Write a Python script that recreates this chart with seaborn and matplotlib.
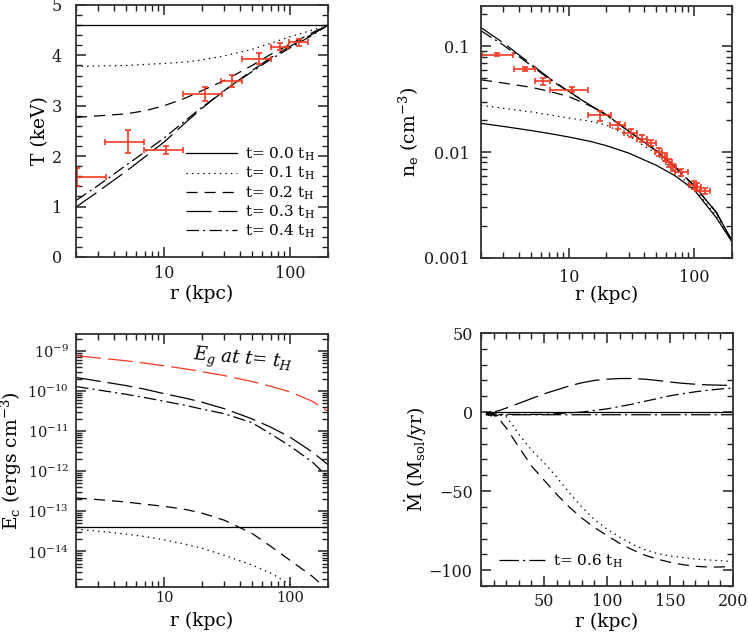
import numpy as np
import matplotlib
matplotlib.use("Agg")
import matplotlib.pyplot as plt
import seaborn as sns
from matplotlib.ticker import (MultipleLocator, LogLocator, NullFormatter,
                               FixedLocator, FuncFormatter, LogFormatterMathtext)

plt.rcParams['font.family'] = ['DejaVu Serif', 'DejaVu Sans']
plt.rcParams['mathtext.fontset'] = 'dejavuserif'
plt.rcParams['lines.scale_dashes'] = False
plt.rcParams['axes.facecolor'] = 'white'
plt.rcParams['figure.facecolor'] = 'white'
for ax_ in ('xtick', 'ytick'):
    plt.rcParams[f'{ax_}.direction'] = 'in'
    plt.rcParams[f'{ax_}.major.size'] = 7
    plt.rcParams[f'{ax_}.minor.size'] = 4
    plt.rcParams[f'{ax_}.major.width'] = 1.1
    plt.rcParams[f'{ax_}.minor.width'] = 1.0
    plt.rcParams[f'{ax_}.color'] = '#202020'
plt.rcParams['xtick.top'] = True
plt.rcParams['ytick.right'] = True

# ---------------- data: temperature panel ----------------
r_T = [2, 3, 5, 7, 10, 15, 20, 30, 50, 70, 100, 150, 200]
T_t0 = [4.6] * 13
T_t1 = [3.78, 3.79, 3.80, 3.82, 3.84, 3.87, 3.91, 3.99, 4.12, 4.24, 4.37, 4.5, 4.6]
T_t2 = [2.77, 2.80, 2.84, 2.90, 3.00, 3.16, 3.30, 3.50, 3.80, 4.02, 4.22, 4.45, 4.6]
T_t3 = [0.99, 1.30, 1.70, 1.98, 2.28, 2.68, 2.95, 3.30, 3.70, 3.95, 4.18, 4.42, 4.6]
T_t4 = [1.12, 1.42, 1.82, 2.08, 2.36, 2.72, 2.97, 3.30, 3.68, 3.92, 4.15, 4.40, 4.6]

T_obs_r = [2.02, 5.2, 10.4, 21.2, 34.6, 56.3, 83.3, 117]
T_obs_rlo = [1.0, 3.40, 6.95, 14.1, 28.4, 41.7, 70.0, 97.6]
T_obs_rhi = [3.44, 6.95, 14.1, 29.0, 41.4, 70.0, 96.0, 139]
T_obs = [1.58, 2.29, 2.13, 3.23, 3.50, 3.93, 4.17, 4.26]
T_obs_err = [0.18, 0.22, 0.08, 0.14, 0.12, 0.11, 0.07, 0.07]

# ---------------- data: density panel ----------------
r_n = [2, 3, 5, 7, 10, 15, 20, 30, 50, 70, 100, 150, 200]
n_t0 = [0.0187, 0.0175, 0.0160, 0.0150, 0.0139, 0.0126, 0.0115, 0.0098, 0.0075, 0.0060, 0.0044, 0.0024, 0.00142]
n_t1 = [0.0277, 0.0260, 0.0240, 0.0225, 0.0210, 0.0195, 0.0180, 0.0143, 0.0096, 0.0066, 0.0045, 0.0025, 0.00142]
n_t2 = [0.0482, 0.0450, 0.0410, 0.0375, 0.0335, 0.0272, 0.0225, 0.0158, 0.0102, 0.0072, 0.0048, 0.0027, 0.00145]
n_t3 = [0.150, 0.108, 0.068, 0.050, 0.0375, 0.0275, 0.0225, 0.0158, 0.0103, 0.0073, 0.0048, 0.0027, 0.00145]
n_t4 = [0.140, 0.103, 0.066, 0.049, 0.0372, 0.0274, 0.0224, 0.0158, 0.0103, 0.0073, 0.0048, 0.0027, 0.00145]

n_obs_r = [2.69, 4.45, 6.28, 10.7, 17.6, 24.5, 31.2, 38.7, 45.5, 52.3, 58.0, 63.0, 68.0, 79.0, 98.8, 106, 122]
n_obs_rlo = [2.05, 3.64, 5.4, 7.1, 14.2, 21.5, 27.8, 35.2, 41.8, 49.0, 55.0, 60.0, 65.0, 70.0, 91.0, 100, 112]
n_obs_rhi = [3.59, 5.4, 7.1, 14.2, 21.7, 28.0, 35.0, 42.0, 50.0, 55.5, 61.0, 66.0, 72.0, 90.0, 106, 113, 133]
n_obs = [0.0835, 0.0612, 0.0466, 0.0388, 0.0222, 0.0179, 0.0152, 0.0134, 0.0122, 0.0100, 0.0090, 0.0080, 0.0072, 0.0065, 0.0049, 0.0047, 0.0043]
n_obs_err = [0.002, 0.003, 0.004, 0.002, 0.0025, 0.0015, 0.0012, 0.001, 0.0009, 0.0009, 0.0008, 0.0007, 0.0006, 0.0005, 0.0004, 0.0004, 0.0003]

# ---------------- data: energy panel ----------------
r_E = [2, 3, 5, 7, 10, 15, 20, 30, 50, 70, 100, 150, 200]
E_g = [7.5e-10, 6.6e-10, 5.6e-10, 4.9e-10, 4.2e-10, 3.5e-10, 3.0e-10, 2.4e-10, 1.7e-10, 1.3e-10, 9.4e-11, 5.5e-11, 3.1e-11]
E_t0 = [4.0e-14] * 13
E_t1 = [3.6e-14, 3.2e-14, 2.7e-14, 2.35e-14, 1.95e-14, 1.5e-14, 1.2e-14, 8.0e-15, 4.6e-15, 2.9e-15, 1.5e-15, 6e-16, 3e-16]
E_t2 = [2.15e-13, 1.95e-13, 1.7e-13, 1.5e-13, 1.33e-13, 1.1e-13, 9.0e-14, 6.0e-14, 2.8e-14, 1.35e-14, 6.0e-15, 2.4e-15, 1.1e-15]
E_t3 = [2.15e-10, 1.75e-10, 1.35e-10, 1.1e-10, 8.5e-11, 6.5e-11, 5.2e-11, 3.6e-11, 2.0e-11, 1.25e-11, 7.0e-12, 3.0e-12, 1.45e-12]
E_t4 = [1.28e-10, 1.05e-10, 8.2e-11, 6.8e-11, 5.5e-11, 4.3e-11, 3.5e-11, 2.7e-11, 1.6e-11, 8.5e-12, 4.2e-12, 1.7e-12, 7.0e-13]

# ---------------- data: mass flow panel ----------------
r_M = [4, 6, 8, 10, 12, 15, 18, 20, 25, 30, 40, 50, 60, 70, 80, 90, 100, 110, 120, 130, 140, 150, 160, 170, 180, 190, 200]
M_t0 = [0.0] * 27
M_t1 = [-1, -2, -1, -2, -1, -2, -2, -3, -8, -14, -24, -32, -41, -51, -60, -68, -74, -79, -83.5, -87, -89.5, -91, -92, -93, -93.5, -94, -94.5]
M_t2 = [-1, -2, -1, -2, -3, -5, -8, -10, -16, -22, -34, -43, -52, -60, -67, -73, -78, -83, -87, -90.5, -93, -95, -96.5, -97.5, -98, -98, -97.5]
M_t3 = [0, -1, 0, -1, 0.5, 1, 2, 2.5, 4, 5.5, 8.5, 11.5, 14, 16.5, 18.5, 20, 20.8, 21.2, 21.2, 20.8, 20, 19, 18.2, 17.6, 17.2, 17, 16.8]
M_t4 = [-1, -2, -1, -1, -2, -1.5, -1.5, -1.5, -1.5, -1.5, -1.5, -1.5, -1, -0.5, 0, 1.0, 2.0, 3.5, 5.0, 6.8, 8.5, 10.3, 11.6, 12.8, 13.8, 14.6, 15.2]
M_t6 = [-2, -1, -2.5, -1, -2.5, -1.5, -2.5, -2, -1.7, -1.7, -1.7, -1.7, -1.7, -1.7, -1.7, -1.7, -1.7, -1.7, -1.7, -1.7, -1.7, -1.7, -1.7, -1.7, -1.7, -1.7, -1.7]

labels_t = [r"t= 0.0 t$_{\rm H}$", r"t= 0.1 t$_{\rm H}$", r"t= 0.2 t$_{\rm H}$",
            r"t= 0.3 t$_{\rm H}$", r"t= 0.4 t$_{\rm H}$"]
label_t6 = r"t= 0.6 t$_{\rm H}$"

# ---------------- styles ----------------
LS = ['-', (0, (1, 3)), (0, (8, 5)), (0, (18, 5)), (0, (9, 3, 1.5, 3))]
LS6 = (0, (14, 3, 1.5, 3))
RED = '#f23a22'
FRAME = '#303030'
LW = 0.9
TICKFS = 11.5
LABFS = 13.5


def line(ax, x, y, ls, color='k', label=None, lw=LW):
    sns.lineplot(x=x, y=y, ax=ax, color=color, linewidth=lw, linestyle=ls,
                 estimator=None, errorbar=None, sort=False, label=label)


def style_ax(ax, xpad, ypad, fs=TICKFS):
    for s in ax.spines.values():
        s.set_color(FRAME)
        s.set_linewidth(1.3)
    ax.tick_params(which='both', direction='in', top=True, right=True,
                   bottom=True, left=True, labelsize=fs, labelcolor='#1a1a1a')
    ax.tick_params(axis='x', which='both', pad=xpad)
    ax.tick_params(axis='y', which='both', pad=ypad)


def log_x(ax):
    ax.set_xscale('log')
    ax.set_xlim(2, 200)
    ax.xaxis.set_major_locator(FixedLocator([10, 100]))
    ax.xaxis.set_major_formatter(FuncFormatter(lambda v, p: f"{v:g}"))
    ax.xaxis.set_minor_locator(LogLocator(base=10, subs=np.arange(2, 10), numticks=100))
    ax.xaxis.set_minor_formatter(NullFormatter())


def labels(ax, xl, yl, xy, yx):
    ax.set_xlabel(xl, fontsize=LABFS)
    ax.set_ylabel(yl, fontsize=LABFS)
    ax.xaxis.set_label_coords(0.5, xy)
    ax.yaxis.set_label_coords(yx, 0.5)
    ax.xaxis.label.set_va('center')
    ax.yaxis.label.set_va('center')


fig = plt.figure(figsize=(7.48, 6.32), dpi=100)
axT = fig.add_axes([0.1016, 0.5934, 0.3369, 0.3987])
axN = fig.add_axes([0.6430, 0.5918, 0.3356, 0.3987])
axE = fig.add_axes([0.1016, 0.0712, 0.3369, 0.4003])
axM = fig.add_axes([0.6430, 0.0728, 0.3369, 0.4003])

# ---- T panel ----
log_x(axT)
for ys, ls, lab in zip([T_t0, T_t1, T_t2, T_t3, T_t4], LS, labels_t):
    line(axT, r_T, ys, ls, label=lab)
xlo = np.array(T_obs_r) - np.array(T_obs_rlo)
xhi = np.array(T_obs_rhi) - np.array(T_obs_r)
axT.errorbar(T_obs_r, T_obs, xerr=[xlo, xhi], yerr=T_obs_err, fmt='none',
             ecolor=RED, elinewidth=1.2, capsize=2.5, capthick=1.2)
axT.set_xlim(2, 200)
axT.set_ylim(0, 5)
axT.yaxis.set_major_locator(MultipleLocator(1))
axT.yaxis.set_minor_locator(MultipleLocator(0.2))
labels(axT, "r (kpc)", "T (keV)", -0.145, -0.143)
h, l = axT.get_legend_handles_labels()
axT.legend(h[:5], l[:5], loc='lower right', bbox_to_anchor=(0.99, 0.025), frameon=False,
           fontsize=11, handlelength=3.3, handletextpad=0.55, labelspacing=0.12,
           borderaxespad=0.3)
style_ax(axT, 6, 10)

# ---- n_e panel ----
log_x(axN)
for ys, ls in zip([n_t0, n_t1, n_t2, n_t3, n_t4], LS):
    line(axN, r_n, ys, ls)
xlo = np.array(n_obs_r) - np.array(n_obs_rlo)
xhi = np.array(n_obs_rhi) - np.array(n_obs_r)
axN.errorbar(n_obs_r, n_obs, xerr=[xlo, xhi], yerr=n_obs_err, fmt='none',
             ecolor=RED, elinewidth=1.2, capsize=2.5, capthick=1.2)
axN.set_yscale('log')
axN.set_xlim(2, 200)
axN.set_ylim(0.001, 0.24)
axN.yaxis.set_major_locator(FixedLocator([0.001, 0.01, 0.1]))
axN.yaxis.set_major_formatter(FuncFormatter(lambda v, p: f"{v:g}"))
axN.yaxis.set_minor_locator(LogLocator(base=10, subs=np.arange(2, 10), numticks=100))
axN.yaxis.set_minor_formatter(NullFormatter())
labels(axN, "r (kpc)", r"n$_{\rm e}$ (cm$^{-3}$)", -0.145, -0.287)
if axN.get_legend():
    axN.get_legend().remove()
style_ax(axN, 8, 8)

# ---- E panel ----
log_x(axE)
line(axE, r_E, E_g, (0, (18, 5)), color=RED)
for ys, ls in zip([E_t0, E_t1, E_t2, E_t3, E_t4], LS):
    line(axE, r_E, ys, ls)
axE.set_yscale('log')
axE.set_xlim(2, 200)
axE.set_ylim(1.3e-15, 2.6e-9)
axE.yaxis.set_major_locator(LogLocator(base=10, numticks=30))
axE.yaxis.set_major_formatter(LogFormatterMathtext())
axE.yaxis.set_minor_locator(LogLocator(base=10, subs=np.arange(2, 10), numticks=100))
axE.yaxis.set_minor_formatter(NullFormatter())
labels(axE, "r (kpc)", r"E$_{\rm c}$ (ergs cm$^{-3}$)", -0.132, -0.255)
axE.text(0.46, 0.895, r"$E_{g}$ $at$ $t$= $t_{H}$", transform=axE.transAxes,
         fontsize=13, ha='left', va='center', rotation=-5)
if axE.get_legend():
    axE.get_legend().remove()
style_ax(axE, 3, 5, fs=10.5)

# ---- Mdot panel ----
for ys, ls in zip([M_t0, M_t1, M_t2, M_t3, M_t4], LS):
    line(axM, r_M, ys, ls)
line(axM, r_M, M_t6, LS6, label=label_t6)
axM.set_xlim(0, 200)
axM.set_ylim(-110, 50)
axM.xaxis.set_major_locator(FixedLocator([50, 100, 150, 200]))
axM.xaxis.set_minor_locator(MultipleLocator(10))
axM.yaxis.set_major_locator(MultipleLocator(50))
axM.yaxis.set_minor_locator(MultipleLocator(10))
labels(axM, "r (kpc)", r"$\dot{\rm M}$ (M$_{\rm sol}$/yr)", -0.142, -0.258)
h, l = axM.get_legend_handles_labels()
axM.legend(h, l, loc='lower left', bbox_to_anchor=(0.03, 0.02), frameon=False,
           fontsize=11, handlelength=3.0, handletextpad=0.5, borderaxespad=0.3)
style_ax(axM, 5, 6)

fig.savefig("out.png", dpi=100)
